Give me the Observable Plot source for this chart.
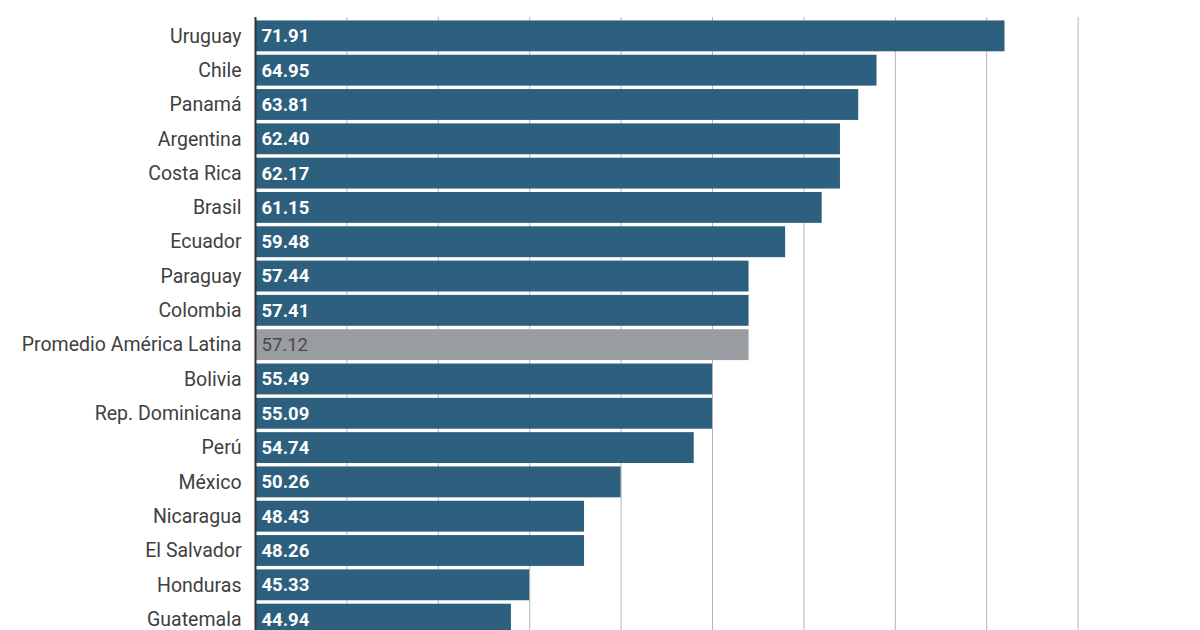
<!DOCTYPE html>
<html>
<head>
<meta charset="utf-8">
<script src="https://cdn.jsdelivr.net/npm/d3@7"></script>
<script src="https://cdn.jsdelivr.net/npm/@observablehq/plot@0.6"></script>
<style>
  html, body { margin: 0; padding: 0; background: #fff; overflow: hidden; }
  #chart svg { display: block; }
</style>
</head>
<body>
<div id="chart"></div>
<script>
const countries = ["Uruguay", "Chile", "Panamá", "Argentina", "Costa Rica", "Brasil", "Ecuador", "Paraguay", "Colombia", "Promedio América Latina", "Bolivia", "Rep. Dominicana", "Perú", "México", "Nicaragua", "El Salvador", "Honduras", "Guatemala"];
const scores = [71.91, 64.95, 63.81, 62.40, 62.17, 61.15, 59.48, 57.44, 57.41, 57.12, 55.49, 55.09, 54.74, 50.26, 48.43, 48.26, 45.33, 44.94];
const gridTicks = [35, 40, 45, 50, 55, 60, 65, 70, 75];
const averageLabel = "Promedio América Latina";

const data = countries.map((c, i) => ({country: c, score: scores[i], avg: c === averageLabel}));
const countryData = data.filter(d => !d.avg);
const avgData = data.filter(d => d.avg);

const chart = Plot.plot({
  width: 1200,
  height: 638,
  marginLeft: 255,
  marginRight: 31,
  marginTop: 17,
  marginBottom: 0,
  style: {fontFamily: "Roboto, sans-serif", background: "#fff"},
  x: {domain: [30, 80], axis: null},
  y: {domain: countries, padding: 0.1, round: false, label: null},
  marks: [
    Plot.ruleX(gridTicks, {stroke: "#b5b5b5", strokeWidth: 1}),
    Plot.barX(data, {
      y: "country",
      x1: 30,
      x2: d => Math.floor(d.score),
      fill: d => d.avg ? "#999da2" : "#2d5f7e"
    }),
    Plot.axisY({tickSize: 0, tickPadding: 14, fontSize: 19.5, fill: "#404040", label: null}),
    Plot.ruleX([30], {stroke: "#333", strokeWidth: 2}),
    Plot.text(countryData, {
      y: "country",
      x: 30,
      text: d => d.score.toFixed(2),
      textAnchor: "start",
      dx: 6,
      fontSize: 18.5,
      fontWeight: "bold",
      fill: "#ffffff"
    }),
    Plot.text(avgData, {
      y: "country",
      x: 30,
      text: d => d.score.toFixed(2),
      textAnchor: "start",
      dx: 6,
      fontSize: 18.5,
      fill: "#4a4a4a"
    })
  ]
});
document.getElementById("chart").appendChild(chart);
</script>
</body>
</html>
